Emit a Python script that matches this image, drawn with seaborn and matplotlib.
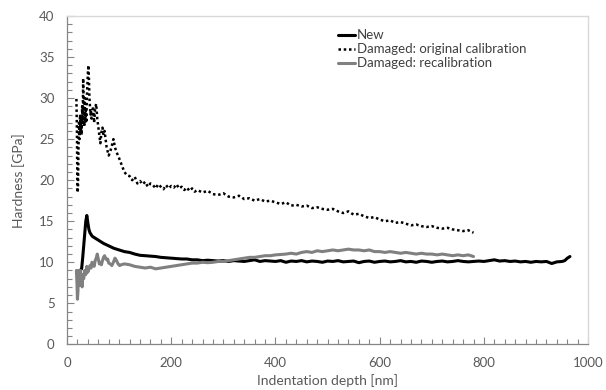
import numpy as np
import pandas as pd
import seaborn as sns
import matplotlib.pyplot as plt
from matplotlib.ticker import MultipleLocator

# --- data ---
new_x = [25, 28, 30, 32, 34, 36, 38, 40, 42, 44, 46, 48, 50, 55, 60, 65, 70, 80, 90,
         100, 110, 120, 130, 140] + list(range(150, 960, 10)) + [955, 960, 965]
new_y = [9.0, 9.2, 10.5, 12.0, 13.5, 15.0, 15.7, 14.8, 14.0, 13.6, 13.4, 13.2, 13.1,
         12.9, 12.7, 12.5, 12.3, 12.0, 11.7, 11.5, 11.3, 11.2, 11.0, 10.85,
         10.8, 10.75, 10.7, 10.6, 10.55, 10.5, 10.45, 10.4, 10.4, 10.3, 10.3, 10.2,
         10.25, 10.2, 10.15, 10.2, 10.1, 10.2, 10.15, 10.1, 10.2, 10.3, 10.1, 10.2,
         10.15, 10.1, 10.2, 10.0, 10.15, 10.1, 10.2, 10.05, 10.15, 10.1, 10.0, 10.15,
         10.1, 10.2, 10.05, 10.1, 10.15, 9.95, 10.1, 10.15, 10.0, 10.1, 10.15, 10.05,
         10.1, 10.2, 10.05, 10.1, 10.0, 10.15, 10.1, 10.0, 10.1, 10.15, 10.05, 10.1,
         10.2, 10.1, 10.05, 10.1, 10.15, 10.1, 10.2, 10.3, 10.15, 10.2, 10.1, 10.15,
         10.05, 10.1, 10.0, 10.1, 10.05, 10.1, 9.85, 10.05, 10.1,
         10.2, 10.5, 10.7]

orig_x = [18, 19, 20, 21, 22, 23, 24, 25, 26, 27, 28, 29, 30, 31, 32, 33, 34, 35, 36,
          37, 38, 39, 40, 41, 42, 43, 44, 45, 46, 47, 48, 50, 52, 54, 56, 58, 60, 62,
          64, 66, 68, 70, 72, 74, 76, 78, 80, 83, 86, 89, 92, 95, 98, 101, 104, 107] \
    + list(range(110, 251, 5)) + list(range(260, 781, 10))
orig_y = [29.9, 26.0, 18.5, 19.0, 24.0, 27.0, 25.0, 28.0, 26.0, 27.5, 25.5, 29.0, 27.0,
          32.4, 28.0, 26.5, 30.0, 27.0, 28.5, 27.0, 30.0, 31.5, 33.0, 34.0, 32.5, 30.0,
          29.0, 28.0, 28.5, 27.5, 28.0, 29.0, 27.0, 28.8, 29.3, 27.5, 26.5, 25.5, 24.5,
          25.8, 26.4, 25.5, 26.0, 25.0, 24.0, 23.5, 23.0, 23.5, 24.2, 25.0, 24.0, 23.4,
          23.0, 22.5, 22.0, 21.5,
          21.0, 20.6, 20.5, 20.0, 20.4, 19.6, 19.9, 19.5, 19.8, 19.2, 19.6, 19.4, 19.0,
          19.5, 19.2, 18.9, 19.4, 19.0, 19.3, 19.1, 19.5, 19.0, 19.2, 18.8, 19.1, 18.7,
          19.0, 18.6, 18.8,
          18.5, 18.7, 18.3, 18.2, 18.4, 18.0, 17.9, 18.1, 17.7, 17.8, 17.5, 17.7, 17.4,
          17.5, 17.3, 17.1, 17.3, 16.9, 17.0, 16.8, 16.9, 16.6, 16.7, 16.5, 16.4, 16.5,
          16.2, 16.0, 16.2, 15.8, 15.9, 15.6, 15.4, 15.5, 15.2, 15.0, 15.1, 14.8, 14.9,
          14.7, 14.5, 14.6, 14.4, 14.3, 14.4, 14.2, 14.1, 14.2, 14.0, 13.9, 13.8, 13.9,
          13.6]

recal_x = [18, 19, 20, 21, 22, 23, 24, 25, 26, 27, 28, 29, 30, 32, 34, 36, 38, 40, 42,
           44, 46, 48, 50, 52, 54, 56, 58, 60, 62, 64, 66, 68, 70, 72, 74, 76, 78, 80,
           83, 86, 89, 92, 95, 98, 101, 104] + list(range(110, 781, 10))
recal_y = [9.0, 7.5, 5.5, 6.5, 9.0, 8.5, 7.2, 8.8, 9.0, 7.5, 8.0, 7.0, 8.5, 8.0, 9.0,
           8.5, 9.5, 8.8, 9.2, 9.6, 9.3, 10.0, 9.7, 9.5, 10.2, 10.5, 11.0, 10.4, 9.8,
           10.0, 9.7, 10.2, 10.6, 10.8, 10.5, 10.3, 10.4, 9.9, 9.8, 9.6, 10.0, 10.5,
           10.2, 9.8, 9.6, 9.7,
           9.8, 9.7, 9.5, 9.4, 9.3, 9.4, 9.2, 9.3, 9.4, 9.5, 9.6, 9.7, 9.8, 9.9, 9.9,
           10.0, 9.95, 10.0, 10.1, 10.1, 10.2, 10.3, 10.4, 10.5, 10.6, 10.6, 10.7, 10.8,
           10.8, 10.9, 10.95, 11.0, 11.1, 11.0, 11.2, 11.3, 11.2, 11.4, 11.3, 11.4, 11.5,
           11.4, 11.5, 11.6, 11.5, 11.5, 11.4, 11.5, 11.3, 11.3, 11.2, 11.3, 11.2, 11.1,
           11.2, 11.1, 11.0, 11.1, 11.0, 11.0, 10.9, 11.0, 10.9, 10.8, 10.9, 10.8, 10.9,
           10.7]

sns.set_style("white")
plt.rcParams['font.family'] = ['Lato', 'DejaVu Sans']
txt = '#595959'

fig = plt.figure(figsize=(6.06, 3.9), dpi=100)
ax = fig.add_axes([0.1106, 0.117, 0.860, 0.842])

sns.lineplot(x=new_x, y=new_y, ax=ax, color='black', lw=2.2, label='New',
             estimator=None, sort=False)
sns.lineplot(x=orig_x, y=orig_y, ax=ax, color='black', lw=1.8,
             label='Damaged: original calibration', estimator=None, sort=False)
ax.lines[-1].set_linestyle((0, (1, 1.1)))
sns.lineplot(x=recal_x, y=recal_y, ax=ax, color='#808080', lw=2.2,
             label='Damaged: recalibration', estimator=None, sort=False)

ax.set_xlim(0, 1000)
ax.set_ylim(0, 40)
ax.xaxis.set_major_locator(MultipleLocator(200))
ax.xaxis.set_minor_locator(MultipleLocator(20))
ax.yaxis.set_major_locator(MultipleLocator(5))
ax.yaxis.set_minor_locator(MultipleLocator(1))
ax.tick_params(which='both', direction='in', colors='#868686', labelcolor=txt,
               labelsize=9.5, left=True, bottom=True, pad=9)
ax.tick_params(which='major', length=5, width=0.8)
ax.tick_params(which='minor', length=3.5, width=0.8)

for s in ['left', 'bottom']:
    ax.spines[s].set_color('#868686')
    ax.spines[s].set_linewidth(0.9)
for s in ['top', 'right']:
    ax.spines[s].set_color('#d9d9d9')
    ax.spines[s].set_linewidth(1.0)

ax.set_xlabel('Indentation depth [nm]', color=txt, fontsize=10, labelpad=4)
ax.set_ylabel('Hardness [GPa]', color=txt, fontsize=10, labelpad=10)

leg = ax.legend(loc='upper left', bbox_to_anchor=(0.51, 0.975), frameon=False,
                handlelength=1.3, handletextpad=0.1, labelspacing=0.15,
                fontsize=9.5, borderaxespad=0)
for t in leg.get_texts():
    t.set_color('#404040')

fig.savefig('out.png', dpi=100)
